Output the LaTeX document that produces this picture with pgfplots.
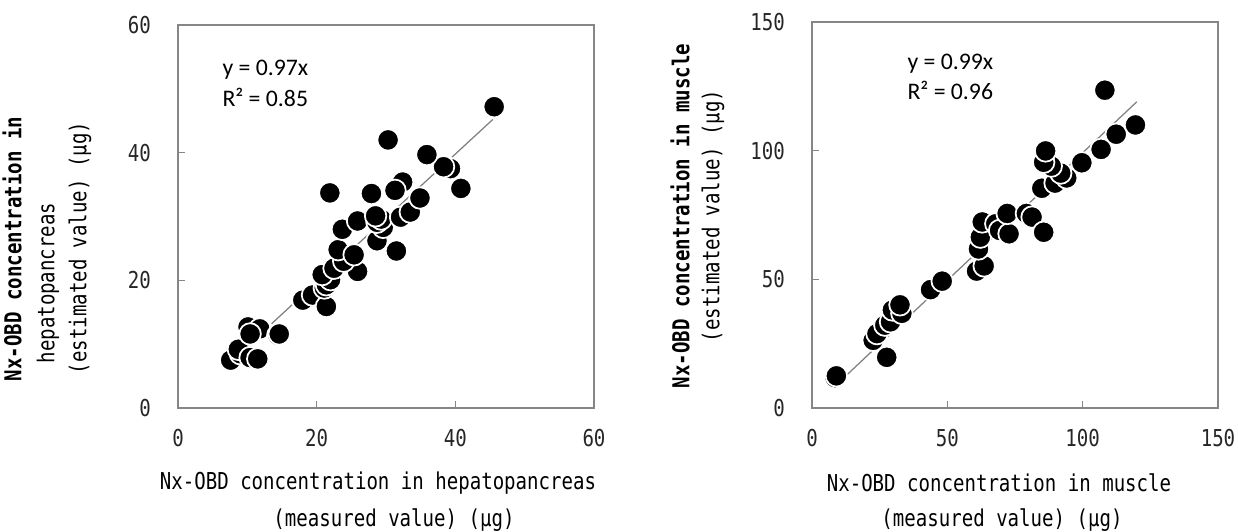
\documentclass[border=0pt]{standalone}
\usepackage{fontspec}
\usepackage{pgfplots}
\pgfplotsset{compat=1.18}
\newfontfamily\gothic[FakeStretch=0.82]{DejaVu Sans Mono}
\newfontfamily\calib{Carlito}
\definecolor{axgray}{HTML}{868686}
\definecolor{fitgray}{HTML}{808080}
\newcommand\gsize{\fontsize{9.3}{11}\selectfont}

\pgfplotsset{
  every axis/.append style={
    scale only axis,
    axis line style={axgray,line width=0.6pt},
    tick align=inside, tick pos=left,
    major tick length=2.8pt,
    every tick/.style={axgray,line width=0.6pt},
    ticklabel style={font=\gothic\gsize,text=black!85},
    /pgf/number format/assume math mode=true,
    xticklabel style={yshift=-5pt},
    yticklabel style={xshift=-7.3pt},
    clip=false,
  },
  dots/.style={only marks,mark=*,mark size=4.3pt,
    mark options={fill=black,draw=white,line width=0.7pt}},
  fit/.style={fitgray,line width=0.5pt,no marks},
}

\begin{document}
\begin{tikzpicture}
\useasboundingbox (0,0) rectangle (495.2pt,212.4pt);

% hepatopancreas
\begin{axis}[at={(71.2pt,49.2pt)},anchor=south west,
  width=166.4pt,height=153.2pt,
  xmin=0,xmax=60,ymin=0,ymax=60,
  xtick={0,20,40,60},ytick={0,20,40,60}]
  \addplot[fit] coordinates {(13.5,13.2)(45.4,45.2)};
  \addplot[dots] coordinates {
    (7.6,7.5)(9.0,8.5)(8.7,9.2)(10.4,7.9)(11.5,7.7)
    (10.1,12.7)(11.8,12.4)(10.4,11.6)(14.4,11.4)(14.6,11.6)
    (18.0,16.9)(19.4,17.7)(21.4,15.9)(21.1,18.8)(21.4,19.3)
    (22.0,20.1)(20.8,20.9)(22.5,21.9)(25.9,21.4)(23.9,23.0)
    (23.1,24.8)(25.4,24.0)(31.5,24.6)(28.7,26.2)(23.7,28.0)
    (25.9,29.3)(29.6,28.3)(28.7,29.1)(29.3,29.6)(28.5,30.1)
    (32.1,29.9)(33.5,30.7)(34.9,32.9)(21.9,33.7)(27.9,33.6)
    (32.4,35.4)(31.3,34.1)(40.8,34.4)(39.3,37.5)(38.3,37.8)
    (35.9,39.7)(30.3,42.0)(45.6,47.2)
  };
\end{axis}

% muscle
\begin{axis}[at={(324.8pt,49.2pt)},anchor=south west,
  width=162.4pt,height=154.4pt,
  xmin=0,xmax=150,ymin=0,ymax=150,
  xtick={0,50,100,150},ytick={0,50,100,150}]
  \addplot[fit] coordinates {(12,12)(120,119)};
  \addplot[dots] coordinates {
    (8.5,11.8)(9.0,12.5)(27.6,19.7)(22.6,26.3)(24.0,28.9)
    (26.9,32.2)(29.0,33.5)(29.7,38.1)(33.2,36.8)(32.5,40.1)
    (43.8,46.0)(48.1,49.3)(60.8,53.2)(63.6,55.2)(61.5,61.8)
    (62.2,66.4)(62.9,72.3)(67.9,71.6)(69.3,69.0)(72.8,67.7)
    (72.1,75.6)(79.2,75.6)(81.3,74.2)(85.6,68.3)(84.9,85.4)
    (89.8,87.4)(94.1,89.4)(91.9,91.3)(88.4,94.0)(85.6,95.5)
    (86.3,99.9)(99.7,95.3)(106.8,100.5)(112.4,106.4)(119.5,110.0)
    (108.2,123.5)
  };
\end{axis}

% annotations
\node[anchor=west,font=\calib\fontsize{9.5}{11}\selectfont,inner sep=0pt] at (88.8pt,184.4pt) {y = 0.97x};
\node[anchor=west,font=\calib\fontsize{9.5}{11}\selectfont,inner sep=0pt] at (88.8pt,173.6pt) {R² = 0.85};
\node[anchor=west,font=\calib\fontsize{9.5}{11}\selectfont,inner sep=0pt] at (362.8pt,186.8pt) {y = 0.99x};
\node[anchor=west,font=\calib\fontsize{9.5}{11}\selectfont,inner sep=0pt] at (362.8pt,176.4pt) {R² = 0.96};

% axis titles
\begin{scope}[every node/.style={font=\gothic\gsize,inner sep=0pt}]
\node at (151.2pt,19.2pt) {Nx-OBD concentration in hepatopancreas};
\node at (157.6pt,4.4pt) {(measured value) (µg)};
\node at (399.6pt,19.2pt) {Nx-OBD concentration in muscle};
\node at (400.8pt,4.4pt) {(measured value)  (µg)};
\node[rotate=90,font=\gothic\gsize\bfseries] at (4.8pt,112.8pt) {Nx-OBD concentration in};
\node[rotate=90] at (19.2pt,99.2pt) {hepatopancreas};
\node[rotate=90] at (32pt,113.2pt) {(estimated value)  (µg)};
\node[rotate=90,font=\gothic\gsize\bfseries] at (272pt,126pt) {Nx-OBD concentration in muscle};
\node[rotate=90] at (285.2pt,126pt) {(estimated value)  (µg)};
\end{scope}
\end{tikzpicture}
\end{document}
